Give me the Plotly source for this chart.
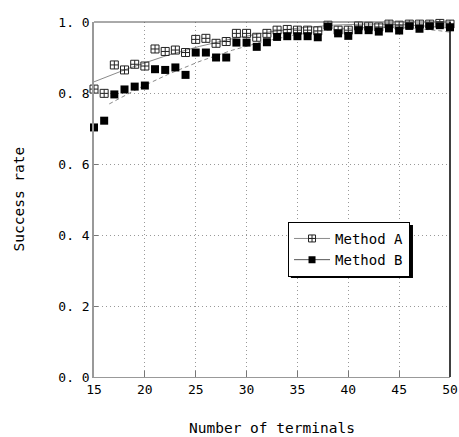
import numpy as np
import plotly.graph_objects as go

terminals = list(range(15, 51))
method_a = [0.811, 0.799, 0.879, 0.865, 0.881, 0.876, 0.924, 0.917, 0.921, 0.914,
            0.951, 0.954, 0.940, 0.945, 0.968, 0.968, 0.957, 0.968, 0.977, 0.979,
            0.977, 0.977, 0.975, 0.991, 0.977, 0.977, 0.989, 0.988, 0.986, 0.994,
            0.991, 0.994, 0.994, 0.994, 0.996, 0.994]
method_b = [0.703, 0.722, 0.796, 0.810, 0.818, 0.821, 0.867, 0.865, 0.872, 0.851,
            0.914, 0.914, 0.900, 0.900, 0.942, 0.942, 0.930, 0.943, 0.958, 0.960,
            0.960, 0.960, 0.957, 0.987, 0.968, 0.961, 0.977, 0.977, 0.973, 0.982,
            0.976, 0.989, 0.981, 0.989, 0.991, 0.985]
y_ticks = [0.0, 0.2, 0.4, 0.6, 0.8, 1.0]
y_tick_labels = ["0. 0", "0. 2", "0. 4", "0. 6", "0. 8", "1. 0"]
x_ticks = [15, 20, 25, 30, 35, 40, 45, 50]

x = np.array(terminals, dtype=float)
xf = np.linspace(15, 50, 200)
fit_a = np.polyval(np.polyfit(x, method_a, 2), xf)
xfb = np.linspace(16.5, 50, 200)
fit_b = np.polyval(np.polyfit(x, method_b, 2), xfb)

MONO = "DejaVu Sans Mono"
fig = go.Figure()
fig.add_trace(go.Scatter(x=xf, y=fit_a, mode="lines", line=dict(color="#8a8a8a", width=1),
                         showlegend=False, hoverinfo="skip"))
fig.add_trace(go.Scatter(x=xfb, y=fit_b, mode="lines", line=dict(color="#8a8a8a", width=1, dash="4px,3px"),
                         showlegend=False, hoverinfo="skip"))
fig.add_trace(go.Scatter(x=terminals, y=method_a, mode="markers", showlegend=False, cliponaxis=False,
                         marker=dict(symbol="square-cross-open", size=8, color="#222",
                                     line=dict(width=1, color="#222"))))
fig.add_trace(go.Scatter(x=terminals, y=method_b, mode="markers", showlegend=False, cliponaxis=False,
                         marker=dict(symbol="square", size=8, color="black")))
fig.add_trace(go.Scatter(x=[None], y=[None], mode="lines+markers", name="Method A",
                         line=dict(color="#8a8a8a", width=1),
                         marker=dict(symbol="square-cross-open", size=7, color="#222",
                                     line=dict(width=1, color="#222"))))
fig.add_trace(go.Scatter(x=[None], y=[None], mode="lines+markers", name="Method B",
                         line=dict(color="#555", width=1),
                         marker=dict(symbol="square", size=7, color="black")))

# legend shadow (offset behind the legend box)
fig.add_shape(type="rect", xref="paper", yref="paper",
              x0=0.553, x1=0.896, y0=0.279, y1=0.428,
              fillcolor="black", line=dict(width=0), layer="above")
# top and right borders
fig.add_shape(type="line", xref="paper", yref="paper", x0=0, x1=1, y0=1, y1=1,
              line=dict(color="#555", width=1))
fig.add_shape(type="line", xref="paper", yref="paper", x0=1, x1=1, y0=0, y1=1,
              line=dict(color="black", width=1.5))

fig.add_annotation(text="Success rate", xref="paper", yref="paper", x=0, y=0.5,
                   xanchor="center", yanchor="middle", xshift=-76, textangle=-90,
                   showarrow=False, font=dict(family=MONO, size=14.5, color="black"))
fig.add_annotation(text="Number of terminals", xref="paper", yref="paper", x=0.5, y=0,
                   xanchor="center", yanchor="middle", yshift=-51,
                   showarrow=False, font=dict(family=MONO, size=14.5, color="black"))

fig.update_layout(
    width=459, height=437,
    margin=dict(l=94, r=9, t=22, b=60, autoexpand=False),
    paper_bgcolor="white", plot_bgcolor="white",
    font=dict(family=MONO, size=13, color="black"),
    showlegend=True,
    legend=dict(x=0.545, y=0.437, xanchor="left", yanchor="top",
                bgcolor="white", bordercolor="black", borderwidth=1,
                font=dict(family=MONO, size=14, color="black"),
                tracegroupgap=0, itemwidth=36),
)
fig.update_xaxes(
    range=[15, 50], tickvals=x_ticks, ticktext=[str(v) for v in x_ticks],
    showgrid=True, gridcolor="#999", griddash="1px,3px", gridwidth=1,
    showline=True, linecolor="#999", linewidth=1, mirror=False,
    ticks="inside", ticklen=6, tickcolor="#777", automargin=False,
    tickfont=dict(family=MONO, size=13), zeroline=False,
)
fig.update_yaxes(
    range=[0, 1.0], tickvals=y_ticks, ticktext=y_tick_labels,
    showgrid=True, gridcolor="#999", griddash="1px,3px", gridwidth=1,
    showline=True, linecolor="#999", linewidth=1.5, mirror=False,
    ticks="inside", ticklen=4, tickcolor="#777", automargin=False,
    tickfont=dict(family=MONO, size=13), zeroline=False,
)
fig.write_html("out.html", config={"displayModeBar": False},
               post_script="document.body.style.margin='0px';document.body.style.overflow='hidden';")
